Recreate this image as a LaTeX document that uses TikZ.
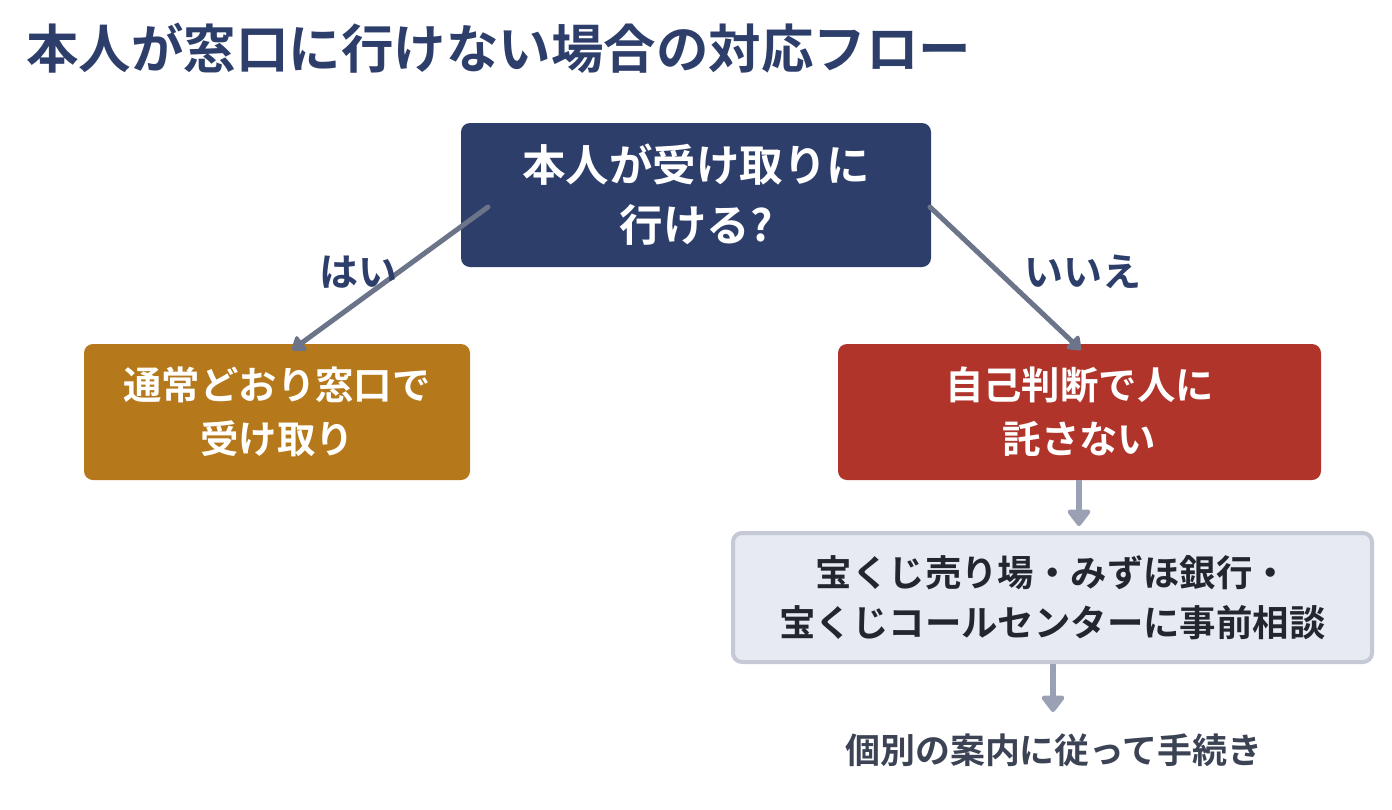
\documentclass[tikz,border=0pt]{standalone}
\usepackage{fontspec}
\setmainfont{Noto Sans CJK JP}[BoldFont={* Bold}]
\usetikzlibrary{arrows.meta}
\definecolor{navy}{HTML}{2D3E6B}
\definecolor{gold}{HTML}{B5781A}
\definecolor{brick}{HTML}{B0342A}
\definecolor{pale}{HTML}{E8EAF2}
\definecolor{paleline}{HTML}{C5C9D6}
\definecolor{armA}{HTML}{6B7489}
\definecolor{armB}{HTML}{9AA1B5}
\definecolor{inkdark}{HTML}{22262E}
\definecolor{inkgray}{HTML}{3B4354}
\tikzset{
  boxbase/.style={rounded corners=9pt, inner sep=0pt, align=center, font=\bfseries},
  qbox/.style={boxbase, fill=navy, text=white, minimum width=470pt, minimum height=144pt,
     font=\fontsize{43.5}{60}\bfseries},
  ybox/.style={boxbase, fill=gold, text=white, minimum width=386pt, minimum height=136pt,
     font=\fontsize{38.4}{54}\bfseries},
  nbox/.style={boxbase, fill=brick, text=white, minimum width=483pt, minimum height=136pt,
     font=\fontsize{38.4}{54}\bfseries},
  gbox/.style={boxbase, fill=pale, draw=paleline, line width=4pt, text=inkdark,
     minimum width=639pt, minimum height=129pt, font=\fontsize{36.4}{50}\bfseries},
  brancharrow/.style={draw=armA, line width=5pt, line cap=round,
     -{Triangle[length=14pt,width=20pt,round]}},
  steparrow/.style={draw=armB, line width=6pt,
     -{Triangle[length=18pt,width=26pt,round]}},
  lbl/.style={text=navy, font=\fontsize{39}{44}\bfseries},
}
\begin{document}
\begin{tikzpicture}[x=1pt,y=-1pt]
\useasboundingbox (0,0) rectangle (1392,809);
\node[anchor=west, text=navy, font=\fontsize{52.5}{60}\bfseries, inner sep=0pt] (title) at (26,48) {本人が窓口に行けない場合の対応フロー};

\node[qbox] (q) at (696,195) {本人が受け取りに\\行ける?};
\node[ybox] (yes) at (277,412) {通常どおり窓口で\\受け取り};
\node[nbox] (no) at (1079.5,412) {自己判断で人に\\託さない};
\node[gbox] (consult) at (1052.5,597.5) {宝くじ売り場・みずほ銀行・\\宝くじコールセンターに事前相談};
\node[text=inkgray, font=\fontsize{34.9}{40}\bfseries, inner sep=0pt] (final) at (1054,750) {個別の案内に従って手続き};

\coordinate (qL) at (488,207);
\coordinate (qR) at (930,207);
\coordinate (yT) at (292,350);
\coordinate (nT) at (1081,350);
\draw[brancharrow] (qL) -- (yT);
\draw[brancharrow] (qR) -- (nT);
\node[lbl] (hai) at (358,272) {はい};
\node[lbl] (iie) at (1083,272) {いいえ};

\draw[steparrow] (no.south -| 1079,0) -- (1079,526) coordinate (c1);
\draw[steparrow] (consult.south -| 1053,0) -- (1053,712) coordinate (c2);
\end{tikzpicture}
\end{document}
